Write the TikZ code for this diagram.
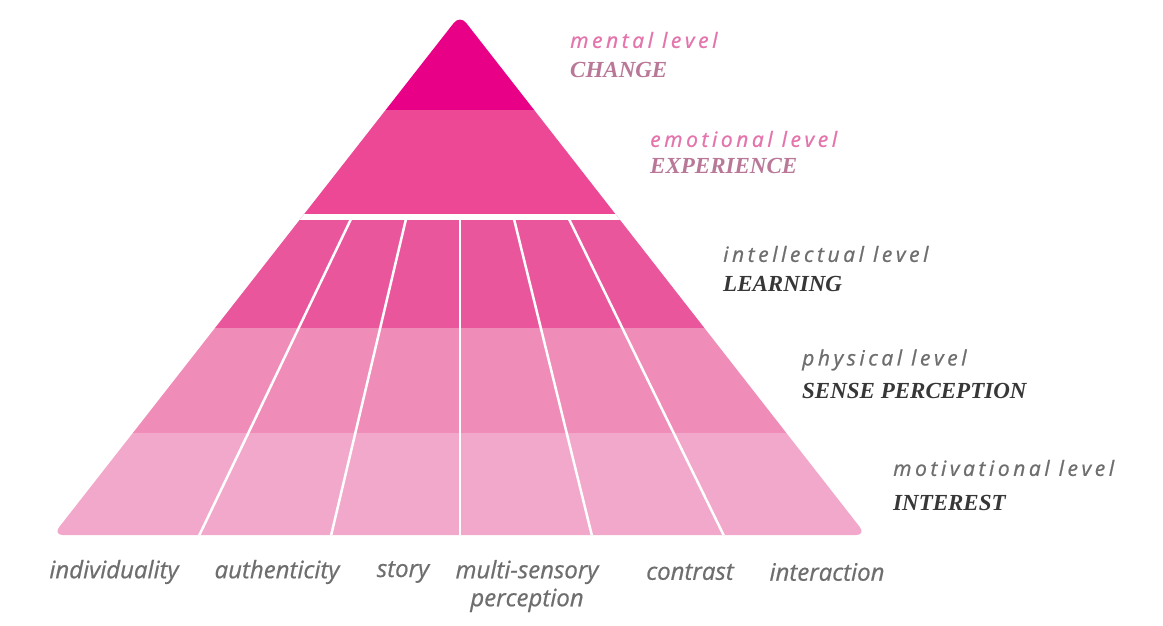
\documentclass[tikz,border=0pt]{standalone}
\usepackage{fontspec}
\setmainfont{Open Sans}
\newfontfamily\lvlfont[LetterSpace=17,FakeBold=0.8]{Open Sans}
\newfontfamily\botfont[FakeBold=0.6]{Open Sans}
\newfontfamily\capfont{Liberation Serif}
\definecolor{cMental}{RGB}{232,0,134}
\definecolor{cEmo}{RGB}{236,72,150}
\definecolor{cInt}{RGB}{234,86,156}
\definecolor{cPhys}{RGB}{240,140,184}
\definecolor{cMot}{RGB}{242,168,202}
\definecolor{tPink}{RGB}{228,116,172}
\definecolor{tMauve}{RGB}{185,120,152}
\definecolor{tGray}{RGB}{110,110,110}
\definecolor{tDark}{RGB}{55,55,55}
\tikzset{
  lvl/.style={anchor=west, inner sep=0pt, font=\lvlfont\itshape\fontsize{21}{23}\selectfont},
  capt/.style={anchor=west, inner sep=0pt, font=\capfont\bfseries\itshape\fontsize{23}{25}\selectfont},
  bot/.style={anchor=center, inner sep=0pt, align=center, text=tGray, font=\botfont\itshape\fontsize{24}{28}\selectfont},
  divider/.style={draw=white, line width=2.5pt},
  gap/.style={draw=white, line width=6pt}
}
\begin{document}
\begin{tikzpicture}[x=1pt,y=-1pt]
\useasboundingbox (0,0) rectangle (1163,626);
\fill[white] (0,0) rectangle (1163,626);
\coordinate (apex) at (460,15);
\coordinate (bl) at (53,535);
\coordinate (br) at (866,535);
\begin{scope}
  \clip[rounded corners=10pt] (apex) -- (br) -- (bl) -- cycle;
  \fill[cMental] (0,0) rectangle (1163,110);
  \fill[cEmo] (0,110) rectangle (1163,217);
  \fill[cInt] (0,217) rectangle (1163,328);
  \fill[cPhys] (0,328) rectangle (1163,433);
  \fill[cMot] (0,433) rectangle (1163,540);
  \draw[gap] (0,216.5) -- (1163,216.5);
  \coordinate (t1) at (351,219); \coordinate (b1) at (197,540);
  \coordinate (t2) at (406,219); \coordinate (b2) at (330,540);
  \coordinate (t3) at (460,219); \coordinate (b3) at (460,540);
  \coordinate (t4) at (514,219); \coordinate (b4) at (593,540);
  \coordinate (t5) at (569,219); \coordinate (b5) at (726,540);
  \foreach \i in {1,...,5} { \draw[divider] (t\i) -- (b\i); }
\end{scope}
% right-hand labels
\node[lvl, text=tPink] (l1) at (570,40) {mental level};
\node[capt, text=tMauve] (c1) at (570,70) {CHANGE};
\node[lvl, text=tPink] (l2) at (650,139) {emotional level};
\node[capt, text=tMauve] (c2) at (650,166) {EXPERIENCE};
\node[lvl, text=tGray] (l3) at (723,254) {intellectual level};
\node[capt, text=tDark] (c3) at (723,284) {LEARNING};
\node[lvl, text=tGray] (l4) at (802,360) {physical level};
\node[capt, text=tDark] (c4) at (802,391) {SENSE PERCEPTION};
\node[lvl, text=tGray] (l5) at (893,468) {motivational level};
\node[capt, text=tDark] (c5) at (893,503) {INTEREST};
% bottom labels
\node[bot] (d1) at (114,572) {individuality};
\node[bot] (d2) at (277,572) {authenticity};
\node[bot] (d3) at (403,572) {story};
\node[bot] (d4) at (527,586) {multi-sensory\\perception};
\node[bot] (d5) at (690,572) {contrast};
\node[bot] (d6) at (827,572) {interaction};
\end{tikzpicture}
\end{document}
